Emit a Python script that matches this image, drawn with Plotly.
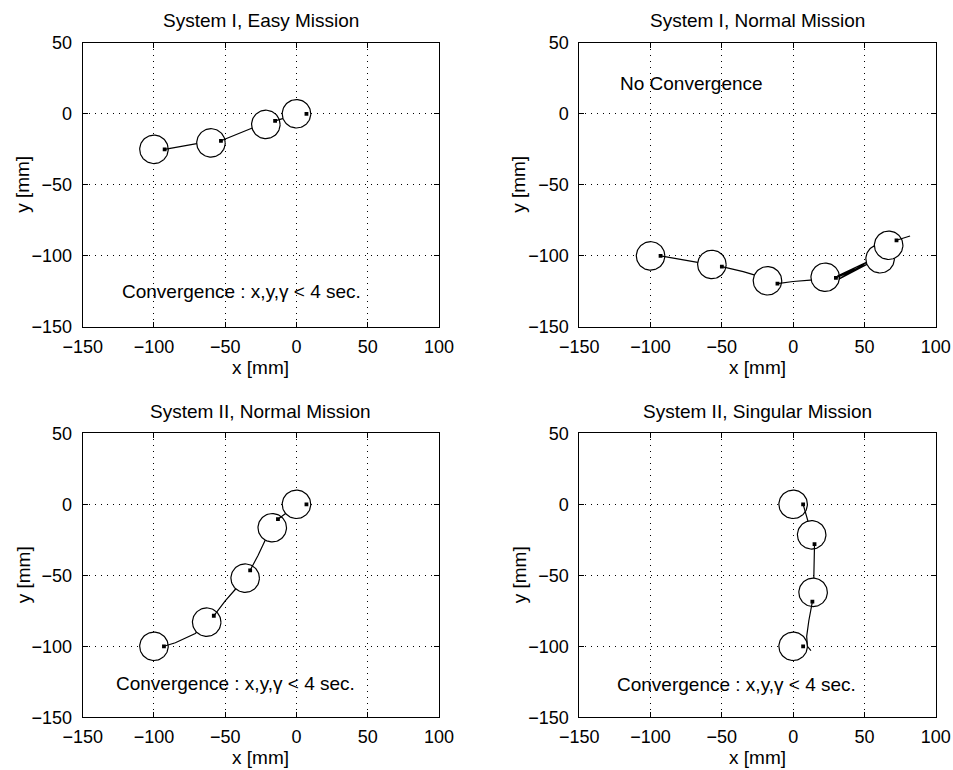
import numpy as np
import plotly.graph_objects as go

FONT = "Liberation Sans, Arial, Helvetica, sans-serif"
R = 10  # robot body radius [mm]

# ---------------- data ----------------
x_ticks = [-150, -100, -50, 0, 50, 100]
y_ticks = [-150, -100, -50, 0, 50]

# Panel 1 : System I, Easy Mission
p1_cx = [-100, -60, -21.5, 0]
p1_cy = [-25, -20.5, -7.5, 0]
p1_dx = [-92.5, -53, -15, 7]
p1_dy = [-25, -19, -5, 0]
p1_px = [-92.5, -81, -70, -53, -41, -31, -15, -5, 7]
p1_py = [-25, -23, -21, -19, -14, -10, -5, -2, 0]
p1_idx = [0, 3, 6, 8]

# Panel 2 : System I, Normal Mission (oscillating near the 4th pose)
p2_cx = [-100, -57, -18, 22.5, 61, 67]
p2_cy = [-100, -106, -117.5, -115, -102, -92.5]
p2_dx = [-93, -50, -11, 30, 68, 72.5]
p2_dy = [-100, -107.5, -119.5, -115.5, -99, -89]
p2_px = [-93, -75, -50, -35, -25, -11, 0, 12, 30, 53, 31, 54, 32, 55, 68, 72.5, 82]
p2_py = [-100, -103, -107.5, -111, -114, -119.5, -118, -117, -115.5,
         -105.5, -114.2, -103.2, -116.3, -104.2, -99, -89, -86]
p2_idx = [0, 2, 5, 8, 14, 15]

# Panel 3 : System II, Normal Mission
p3_cx = [-100, -63, -36, -17, 0]
p3_cy = [-100, -83, -52, -16.5, 0]
p3_dx = [-93, -58, -32.5, -13, 7]
p3_dy = [-100, -78.5, -46.5, -10.5, 0]
p3_px = [-93, -85, -71, -58, -50, -43, -32.5, -27, -19, -13, -3, 7]
p3_py = [-100, -97.5, -91, -78.5, -68, -60, -46.5, -36, -19, -10.5, -3, 0]
p3_idx = [0, 3, 6, 9, 11]

# Panel 4 : System II, Singular Mission
p4_cx = [0, 13, 14, 0]
p4_cy = [0, -21.5, -62, -100]
p4_dx = [7, 15, 13.5, 7]
p4_dy = [0, -28, -68.5, -100]
p4_px = [7, 9, 11, 15, 15, 14.5, 13.5, 11, 9.5, 10, 12.5]
p4_py = [0, -7, -13, -28, -40, -52, -68.5, -82, -93, -100, -103]
p4_idx = [0, 3, 6, 10]

titles = ["System I, Easy Mission", "System I, Normal Mission",
          "System II, Normal Mission", "System II, Singular Mission"]
notes = ["Convergence : x,y,γ < 4 sec.", "No Convergence",
         "Convergence : x,y,γ < 4 sec.", "Convergence : x,y,γ < 4 sec."]

panels = [
    (p1_cx, p1_cy, p1_dx, p1_dy, p1_px, p1_py, p1_idx),
    (p2_cx, p2_cy, p2_dx, p2_dy, p2_px, p2_py, p2_idx),
    (p3_cx, p3_cy, p3_dx, p3_dy, p3_px, p3_py, p3_idx),
    (p4_cx, p4_cy, p4_dx, p4_dy, p4_px, p4_py, p4_idx),
]
note_pos = [(-38.5, -125), (-71, 21), (-42.5, -126), (-39.5, -127)]

# ---------------- layout geometry ----------------
W, H = 953, 770
xdoms = [[82.7 / W, 439 / W], [579.3 / W, 935.7 / W]]
ydoms = [[1 - 327 / H, 1 - 42.7 / H], [1 - 717.3 / H, 1 - 433.3 / H]]
grid_pos = [(0, 0), (1, 0), (0, 1), (1, 1)]  # (col, row)

fig = go.Figure()
theta = np.linspace(0, 2 * np.pi, 81)

for k, (cx, cy, dx, dy, px, py, idx) in enumerate(panels):
    xa = "x" if k == 0 else f"x{k + 1}"
    ya = "y" if k == 0 else f"y{k + 1}"
    n = len(cx)
    for i in range(n):
        # robot body
        fig.add_trace(go.Scatter(
            x=cx[i] + R * np.cos(theta), y=cy[i] + R * np.sin(theta),
            mode="lines", fill="toself", fillcolor="white",
            line=dict(color="black", width=1.2),
            xaxis=xa, yaxis=ya, hoverinfo="skip", showlegend=False))
        # reference point
        fig.add_trace(go.Scatter(
            x=[dx[i]], y=[dy[i]], mode="markers",
            marker=dict(symbol="square", size=3.8, color="black"),
            xaxis=xa, yaxis=ya, hoverinfo="skip", showlegend=False))
        # trajectory segment until next pose
        start = idx[i]
        end = idx[i + 1] if i + 1 < n else len(px) - 1
        if end > start:
            fig.add_trace(go.Scatter(
                x=px[start:end + 1], y=py[start:end + 1], mode="lines",
                line=dict(color="black", width=1.2),
                xaxis=xa, yaxis=ya, hoverinfo="skip", showlegend=False))

layout = dict(
    width=W, height=H, margin=dict(l=0, r=0, t=0, b=0, autoexpand=False),
    paper_bgcolor="white", plot_bgcolor="white", showlegend=False,
    font=dict(family=FONT, size=18, color="black"),
)

annotations = []
for k in range(4):
    col, row = grid_pos[k]
    xname = "xaxis" if k == 0 else f"xaxis{k + 1}"
    yname = "yaxis" if k == 0 else f"yaxis{k + 1}"
    xa = "x" if k == 0 else f"x{k + 1}"
    ya = "y" if k == 0 else f"y{k + 1}"
    common = dict(
        showgrid=True, gridcolor="black", gridwidth=1, griddash="1px,5px",
        zeroline=False, showline=True, linecolor="black", linewidth=1,
        mirror="ticks", ticks="inside", ticklen=5, tickcolor="black",
        automargin=False,
        tickfont=dict(family=FONT, size=18, color="black"),
    )
    layout[xname] = dict(domain=xdoms[col], range=[-150, 100], tickvals=x_ticks,
                         anchor=ya, ticklabelstandoff=3, **common)
    layout[yname] = dict(domain=ydoms[row], range=[-150, 50], tickvals=y_ticks,
                         anchor=xa, ticklabelstandoff=6, **common)
    xc = (xdoms[col][0] + xdoms[col][1]) / 2
    # title
    title_y = [1 - 21 / H, 1 - 412 / H][row]
    annotations.append(dict(text=titles[k], x=xc, y=title_y, xref="paper", yref="paper",
                            showarrow=False, xanchor="center", yanchor="middle",
                            font=dict(size=19)))
    # x label
    xl_y = [1 - 367 / H, 1 - 757 / H][row]
    annotations.append(dict(text="x [mm]", x=xc, y=xl_y, xref="paper", yref="paper",
                            showarrow=False, xanchor="center", yanchor="middle",
                            font=dict(size=19)))
    # y label
    yc = (ydoms[row][0] + ydoms[row][1]) / 2
    yl_x = [23 / W, 519 / W][col]
    annotations.append(dict(text="y [mm]", x=yl_x, y=yc, xref="paper", yref="paper",
                            showarrow=False, xanchor="center", yanchor="middle",
                            textangle=-90, font=dict(size=19)))
    # note
    annotations.append(dict(text=notes[k], x=note_pos[k][0], y=note_pos[k][1],
                            xref=xa, yref=ya, showarrow=False,
                            xanchor="center", yanchor="middle", font=dict(size=19)))

layout["annotations"] = annotations
fig.update_layout(**layout)
fig.write_html("out.html")
